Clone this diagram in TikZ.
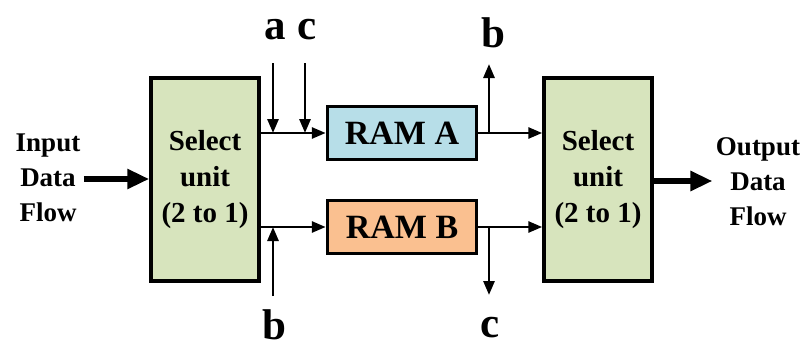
\documentclass[tikz,border=0pt]{standalone}
\usepackage{fontspec}
\setmainfont{Liberation Serif}
\newfontfamily\diagfont{Liberation Serif}[BoldFont={Liberation Serif Bold}]
\usetikzlibrary{arrows.meta}
\definecolor{selgreen}{RGB}{215,228,189}
\definecolor{ramblue}{RGB}{183,222,232}
\definecolor{ramorange}{RGB}{250,192,144}
\begin{document}
\begin{tikzpicture}[x=1pt,y=-1pt,
  selbox/.style={draw=black,line width=3.5pt,fill=selgreen,minimum width=108pt,minimum height=203pt,inner sep=0pt,
    font=\diagfont\fontsize{29}{36}\selectfont\bfseries,align=center},
  rambox/.style={draw=black,line width=3.5pt,minimum width=149pt,minimum height=53pt,inner sep=0pt,
    font=\diagfont\fontsize{34}{40}\selectfont\bfseries},
  flowtext/.style={font=\diagfont\fontsize{27}{35}\selectfont\bfseries,align=center},
  sigtext/.style={font=\diagfont\fontsize{43}{50}\selectfont\bfseries,inner sep=0pt},
  wire/.style={line width=2.8pt,-{Triangle[length=14pt,width=11pt]}},
  bigwire/.style={line width=6pt,-{Triangle[length=22pt,width=19pt]}}
]
\useasboundingbox (0,0) rectangle (807,348);

% units
\node[selbox] (selL) at (205,179.5) {Select\\unit\\(2 to 1)};
\node[selbox] (selR) at (598,179.5) {Select\\unit\\(2 to 1)};
\node[rambox,fill=ramblue] (ramA) at (402,133) {RAM A};
\node[rambox,fill=ramorange] (ramB) at (402,227) {RAM B};

% external data flow
\node[flowtext] (in) at (48,178) {Input\\Data\\Flow};
\node[flowtext] (out) at (758,182) {Output\\Data\\Flow};
\draw[bigwire] (in.east |- 0,179) coordinate (inS) -- (selL.west |- inS);
\draw[bigwire] (selR.east |- 0,181) coordinate (outS) -- (out.west |- outS);

% RAM data paths
\draw[wire] (selL.east |- ramA.west) -- (ramA.west);
\draw[wire] (selL.east |- ramB.west) -- (ramB.west);
\draw[wire] (ramA.east) -- (selR.west |- ramA.east);
\draw[wire] (ramB.east) -- (selR.west |- ramB.east);

% control signal labels
\node[sigtext] (a1) at (275,30) {a};
\node[sigtext] (c1) at (307,30) {c};
\node[sigtext] (b1) at (493,33) {b};
\node[sigtext] (b2) at (274,325) {b};
\node[sigtext] (c2) at (490,328) {c};

% control signals
\coordinate (aS) at (273,63);
\coordinate (cS) at (305,63);
\coordinate (bS) at (273,296);
\coordinate (bE) at (489,64);
\coordinate (cE) at (489,295);
\draw[wire] (aS) -- (aS |- ramA.west);
\draw[wire] (cS) -- (cS |- ramA.west);
\draw[wire] (bS) -- (bS |- ramB.west);
\draw[wire] (bE |- ramA.east) -- (bE);
\draw[wire] (cE |- ramB.east) -- (cE);
\end{tikzpicture}
\end{document}
